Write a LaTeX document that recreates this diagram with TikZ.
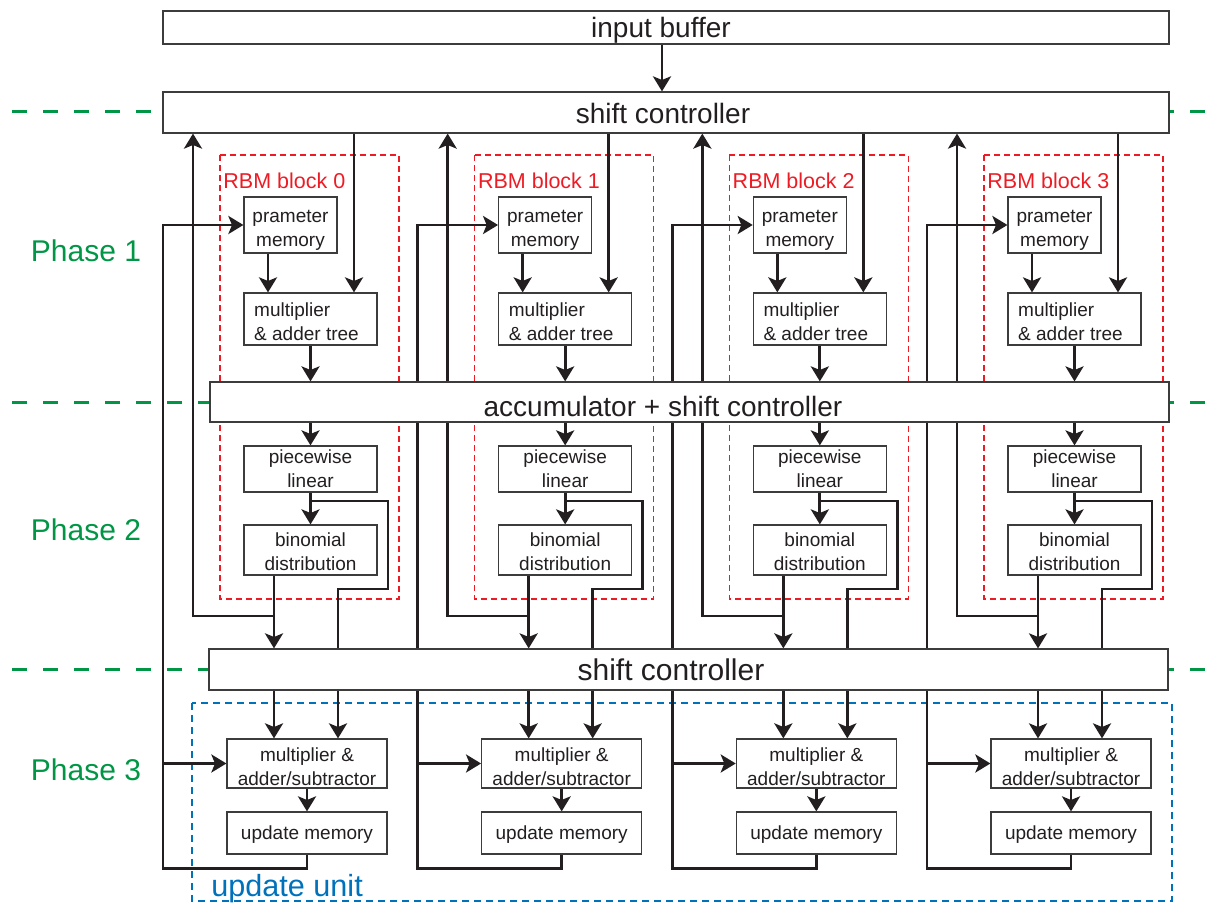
\documentclass[tikz,border=0pt]{standalone}
\usepackage{fontspec}
\setmainfont{Liberation Sans}
\usetikzlibrary{arrows.meta,calc}
\pgfdeclarelayer{back}
\pgfdeclarelayer{bg}
\pgfsetlayers{back,bg,main}
\definecolor{phgreen}{RGB}{0,150,70}
\definecolor{rbmred}{RGB}{237,28,36}
\definecolor{uublue}{RGB}{0,114,188}
\definecolor{ink}{RGB}{35,31,32}
\definecolor{boxgray}{RGB}{60,60,60}
\newcommand\myrule[1]{\rule{0pt}{#1}}
\begin{document}
\begin{tikzpicture}[x=0.5pt,y=-0.5pt,
  rect/.style n args={4}{at={({((#1)+(#3))/2},{((#2)+(#4))/2})},
    minimum width={((#3)-(#1))*0.5pt},minimum height={((#4)-(#2))*0.5pt}},
  box/.style={draw=boxgray,line width=0.6pt,fill=white,inner sep=0pt,align=center,
    font=\fontsize{9.5}{12}\selectfont,text=ink},
  bigbox/.style={draw=boxgray,line width=0.6pt,fill=white,inner sep=0pt},
  bigtext/.style={font=\fontsize{14}{16}\selectfont,text=ink,inner sep=0pt},
  phasetext/.style={font=\fontsize{15}{17}\selectfont,text=phgreen,inner sep=0pt},
  rbmtext/.style={font=\fontsize{10.75}{12}\selectfont,text=rbmred,inner sep=0pt},
  uutext/.style={font=\fontsize{15.3}{17}\selectfont,text=uublue,inner sep=0pt},
  wire/.style={line width=1.4pt,draw=ink},
  arr/.style={-{Stealth[length=7.5pt,width=9pt,inset=1.8pt]}},
  phaseline/.style={draw=phgreen,line width=1.5pt,dash pattern=on 7.5pt off 8pt},
  rbmbox/.style={draw=rbmred,line width=0.6pt,dash pattern=on 3pt off 2pt},
  uubox/.style={draw=uublue,line width=0.6pt,dash pattern=on 3.5pt off 2.5pt}]
\useasboundingbox (0,0) rectangle (1212,903);

% big boxes
\node[bigbox,rect={163}{11}{1169}{44}] (ib) {};
\node[bigtext] (ibt) at (661,30) {input buffer};
\node[bigbox,rect={163}{92}{1169}{133}] (sc) {};
\node[bigtext] (sct) at (663,113) {shift controller};
\node[bigbox,rect={210}{382}{1169}{422}] (acc) {};
\node[bigtext] (acct) at (663,406) {accumulator + shift controller};
\node[bigbox,rect={209}{649}{1168}{690}] (sc2) {};
\node[bigtext,font=\fontsize{15}{17}\selectfont] (sc2t) at (671,670) {shift controller};

% labels
\node[phasetext] (ph1) at (86,251) {Phase 1};
\node[phasetext] (ph2) at (86,530) {Phase 2};
\node[phasetext] (ph3) at (86,770) {Phase 3};
\node[uutext,anchor=base west] (uu) at (211,897) {update unit};

\coordinate (xin) at (662,0);
\coordinate (Ya) at (0,501);
\coordinate (Yb) at (0,589);

\foreach \k in {0,1,2,3}{
  \pgfmathsetmacro\dx{254.67*\k}
  \node[rbmtext,anchor=west] (rl\k) at ({223+\dx},181) {RBM block \k};
  \node[box,rect={244+\dx}{197}{337+\dx}{253}] (pm\k) {\myrule{11.3pt}prameter\\memory};
  \node[box,align=left,rect={244+\dx}{293}{377+\dx}{345}] (mt\k) {\myrule{10pt}multiplier\\\& adder tree\hspace*{4pt}};
  \node[box,rect={244+\dx}{446}{377+\dx}{492}] (pw\k) {piecewise\\linear};
  \node[box,rect={244+\dx}{525}{377+\dx}{575}] (bd\k) {\myrule{8.5pt}binomial\\distribution};
  \node[box,rect={227+\dx}{739}{387+\dx}{788}] (ms\k) {\myrule{10pt}multiplier \&\\adder/subtractor};
  \node[box,rect={227+\dx}{812}{387+\dx}{854}] (um\k) {\myrule{8pt}update memory};
  \coordinate (L\k) at ({163+\dx},0);
  \coordinate (R\k) at ({193+\dx},0);
  \coordinate (B\k) at ({274+\dx},0);
  \coordinate (J\k) at ({274+\dx},616);
  \coordinate (P\k) at ({268+\dx},0);
  \coordinate (S\k) at ({354+\dx},0);
  \coordinate (E\k) at ({388+\dx},0);
  \coordinate (F\k) at ({338+\dx},0);
}

\begin{pgfonlayer}{back}
  \draw[phaseline] (12,112) -- (1212,112);
  \draw[phaseline] (12,403) -- (1212,403);
  \draw[phaseline] (12,670) -- (1212,670);
  \foreach \k in {0,1,2,3}{
    \pgfmathsetmacro\dx{254.67*\k}
    \draw[rbmbox] ({220+\dx},155) rectangle ({399+\dx},599);
  }
  \draw[uubox] (192,703) rectangle (1172,901);
\end{pgfonlayer}

\begin{pgfonlayer}{bg}
  \draw[wire,arr] (ib.south -| xin) -- (sc.north -| xin);
  \foreach \k in {0,1,2,3}{
    \draw[wire,arr] (um\k.south) -- ++(0,14) -| (L\k |- pm\k.west) -- (pm\k.west);
    \draw[wire,arr] (L\k |- ms\k.west) -- (ms\k.west);
    \draw[wire,arr] (B\k |- bd\k.south) -- (B\k |- sc2.north);
    \draw[wire,arr] (J\k) -| (R\k |- sc.south);
    \draw[wire] (pw\k.south |- Ya) -| (E\k |- Yb) -| (F\k |- sc2.north);
    \draw[wire,arr] (sc2.south -| B\k) -- (ms\k.north -| B\k);
    \draw[wire,arr] (sc2.south -| F\k) -- (ms\k.north -| F\k);
    \draw[wire,arr] (sc.south -| S\k) -- (mt\k.north -| S\k);
    \draw[wire,arr] (pm\k.south -| P\k) -- (mt\k.north -| P\k);
    \draw[wire,arr] (mt\k.south) -- (acc.north -| mt\k.south);
    \draw[wire,arr] (acc.south -| pw\k.north) -- (pw\k.north);
    \draw[wire,arr] (pw\k.south) -- (bd\k.north);
    \draw[wire,arr] (ms\k.south) -- (um\k.north);
  }
\end{pgfonlayer}
\end{tikzpicture}
\end{document}
